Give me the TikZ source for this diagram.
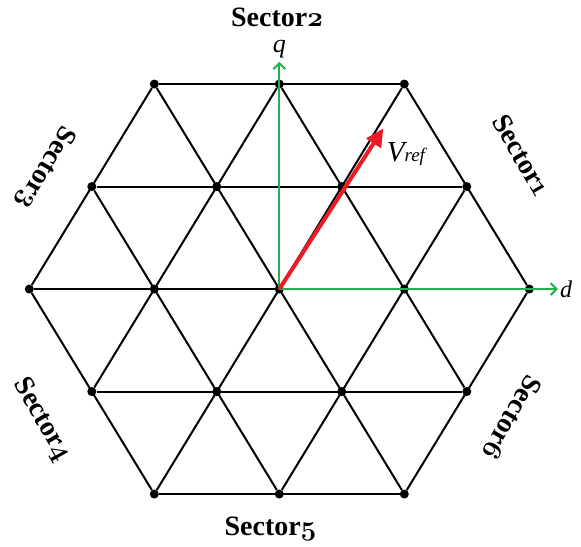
\documentclass[tikz,border=0pt]{standalone}
\usepackage{fontspec}
\setmainfont{Liberation Serif}
\newfontfamily\osfont[Numbers=OldStyle]{Latin Modern Roman}
\usetikzlibrary{arrows.meta}
\definecolor{axisgreen}{RGB}{34,177,76}
\definecolor{vecred}{RGB}{237,28,36}
\newcommand{\sectlabel}[1]{Sector\kern-1pt{\osfont\bfseries #1}}

\begin{document}
\begin{tikzpicture}[x=62.5pt, y=102.5pt,
	dot/.style={circle, fill=black, inner sep=0pt, minimum size=9pt},
	gridline/.style={line width=2pt},
	axis/.style={axisgreen, line width=2pt, -{Straight Barb[length=6pt,width=12pt,line width=2pt]}},
	sectorlabel/.style={font=\fontsize{28}{30}\selectfont\bfseries, inner sep=0pt}]
	\useasboundingbox (-4.469,-2.507) rectangle (4.827,2.820);
	% lattice points of the hexagon
	\foreach \j in {-2,...,2}{
		\pgfmathtruncatemacro{\m}{4-abs(\j)}
		\pgfmathtruncatemacro{\mm}{-\m}
		\pgfmathtruncatemacro{\mn}{-\m+2}
		\foreach \i in {\mm,\mn,...,\m}
			\node[dot] (p\i_\j) at (\i,\j) {};
	}
	% horizontal lines
	\foreach \j in {-2,...,2}{
		\pgfmathtruncatemacro{\m}{4-abs(\j)}
		\pgfmathtruncatemacro{\mm}{-\m}
		\draw[gridline] (p\mm_\j) -- (p\m_\j);
	}
	% slanted lines
	\foreach \a/\b/\c/\e in {-2/-2/2/2, 0/-2/3/1, 2/-2/4/0, -3/-1/0/2, -4/0/-2/2,
		-2/2/2/-2, 0/2/3/-1, 2/2/4/0, -3/1/0/-2, -4/0/-2/-2}
		\draw[gridline] (p\a_\b) -- (p\c_\e);
	% d-q axes
	\coordinate (dtip) at (4.459,0);
	\coordinate (qtip) at (0,2.218);
	\draw[axis] (p0_0.center) -- (dtip);
	\draw[axis] (p0_0.center) -- (qtip);
	\node[right, inner sep=2pt, font=\fontsize{24}{24}\selectfont\itshape] (dlab) at (dtip) {d};
	\node[above, inner sep=3pt, font=\fontsize{26}{26}\selectfont\itshape] (qlab) at (qtip) {q};
	% reference vector
	\coordinate (vtip) at (1.664,1.568);
	\draw[vecred, line width=4pt, -{Triangle[length=18pt,width=17pt]}] (p0_0.center) -- (vtip);
	\node[anchor=base west, inner sep=0pt, font=\itshape] (vlab) at (1.718,1.242)
		{\fontsize{29}{29}\selectfont V\fontsize{19}{19}\selectfont ref};
	% sector names
	\node[sectorlabel, rotate=-60] (s1) at (3.878,1.307) {\sectlabel{1}};
	\node[sectorlabel] (s2) at (-0.03,2.654) {\sectlabel{2}};
	\node[sectorlabel, rotate=-120] (s3) at (-3.749,1.180) {\sectlabel{3}};
	\node[sectorlabel, rotate=-60] (s4) at (-3.80,-1.278) {\sectlabel{4}};
	\node[sectorlabel] (s5) at (-0.136,-2.341) {\sectlabel{5}};
	\node[sectorlabel, rotate=-120] (s6) at (3.718,-1.259) {\sectlabel{6}};
\end{tikzpicture}
\end{document}
